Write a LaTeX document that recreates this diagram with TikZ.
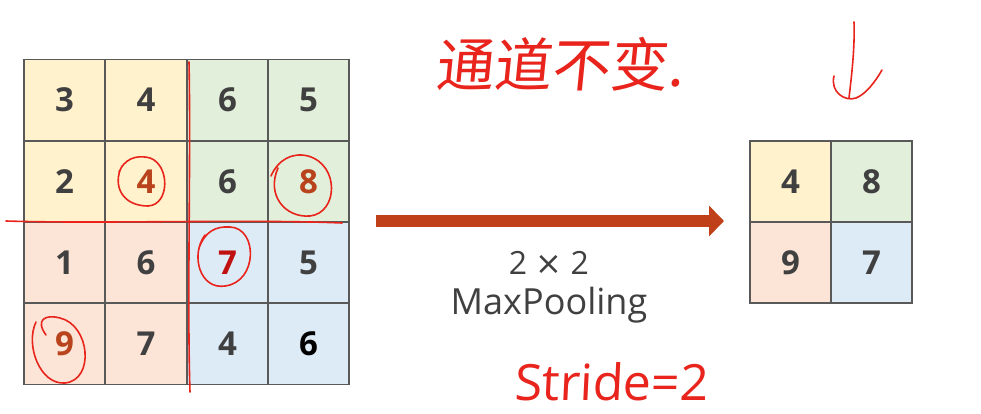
\documentclass[tikz,border=0pt]{standalone}
\usepackage{fontspec}
\setmainfont{Open Sans}
\newfontfamily\cjk{Noto Sans CJK SC}
\newfontfamily\symf{DejaVu Sans}
\usetikzlibrary{arrows.meta,calc}
\definecolor{cyel}{HTML}{FFF2CC}
\definecolor{cgrn}{HTML}{E2EFDA}
\definecolor{corg}{HTML}{FCE4D6}
\definecolor{cblu}{HTML}{DDEBF7}
\definecolor{gridc}{HTML}{595959}
\definecolor{numc}{HTML}{404040}
\definecolor{hit}{HTML}{B8431C}
\definecolor{arrc}{HTML}{C0401A}
\definecolor{pen}{HTML}{E8241C}
\tikzset{
  cell/.style={draw=gridc, line width=1.2pt, minimum width=81pt, minimum height=81pt, inner sep=0pt, outer sep=0pt,
    font=\fontsize{33}{33}\selectfont\bfseries, text=numc},
  ink/.style={draw=pen, line width=1.6pt, line cap=round, line join=round},
  inktext/.style={text=pen, inner sep=0pt},
}
\begin{document}
\begin{tikzpicture}[x=1pt,y=-1pt]
\useasboundingbox[fill=white] (0,0) rectangle (981,414);
% input grid
\foreach \r/\y in {1/100,2/181.5,3/262.5,4/344}{
  \foreach \c/\x in {1/64.5,2/146,3/227.5,4/308.5}{
    \coordinate (p\r\c) at (\x,\y);
  }
}
\node[cell,fill=cyel] (c11) at (p11) {3};
\node[cell,fill=cyel] (c12) at (p12) {4};
\node[cell,fill=cgrn] (c13) at (p13) {6};
\node[cell,fill=cgrn] (c14) at (p14) {5};
\node[cell,fill=cyel] (c21) at (p21) {2};
\node[cell,fill=cyel,text=hit] (c22) at (p22) {4};
\node[cell,fill=cgrn] (c23) at (p23) {6};
\node[cell,fill=cgrn,text=hit] (c24) at (p24) {8};
\node[cell,fill=corg] (c31) at (p31) {1};
\node[cell,fill=corg] (c32) at (p32) {6};
\node[cell,fill=cblu,text={rgb,255:red,192;green,16;blue,16}] (c33) at (p33) {7};
\node[cell,fill=cblu] (c34) at (p34) {5};
\node[cell,fill=corg,text=hit] (c41) at (p41) {9};
\node[cell,fill=corg] (c42) at (p42) {7};
\node[cell,fill=cblu] (c43) at (p43) {4};
\node[cell,fill=cblu,text=black] (c44) at (p44) {6};
% output grid
\node[cell,fill=cyel] (o11) at (790.5,181.5) {4};
\node[cell,fill=cgrn] (o12) at (871.5,181.5) {8};
\node[cell,fill=corg] (o21) at (790.5,262.5) {9};
\node[cell,fill=cblu] (o22) at (871.5,262.5) {7};
% main arrow
\coordinate (as) at (376,221);
\coordinate (ae) at (724,221);
\draw[arrc, line width=12pt, -{Triangle[length=15pt,width=30pt]}] (as) -- (ae);
% label
\node[text=numc, font=\fontsize{32}{32}\selectfont, inner sep=0pt] (lab1) at (549,263) {2 {\symf×} 2};
\node[text=numc, font=\fontsize{36}{36}\selectfont, inner sep=0pt, anchor=base] (lab2) at (549,314) {MaxPooling};
% handwritten annotations
\draw[ink] (6,221) .. controls (100,224) and (250,219) .. (342,223);
\draw[ink] (189,62) .. controls (191,160) and (187,300) .. (190,392);
\draw[ink] (122,166) .. controls (112,185) and (122,206) .. (148,206) .. controls (170,205) and (170,165) .. (150,158) .. controls (135,154) and (124,160) .. (119,172);
\draw[ink] (278,168) .. controls (266,195) and (285,218) .. (310,216) .. controls (338,213) and (340,165) .. (308,156) .. controls (292,152) and (278,160) .. (271,176);
\draw[ink] (205,235) .. controls (190,255) and (200,290) .. (225,286) .. controls (258,282) and (258,228) .. (230,227) .. controls (215,226) and (205,232) .. (199,248);
\draw[ink] (36,322) .. controls (25,345) and (40,385) .. (65,383) .. controls (95,380) and (90,325) .. (60,318) .. controls (45,314) and (35,320) .. (46,335);
\node[inktext, font=\cjk\fontsize{58}{58}\selectfont, xslant=0.1] (ch) at (562,64) {通道不变.};
\node[inktext, font=\fontsize{50}{50}\selectfont, xslant=0.05] (st) at (612,382) {Stride=2};
\coordinate (d0) at (854,22);
\coordinate (d1) at (849,98);
\draw[ink] (d0) .. controls (855,50) and (851,80) .. (d1);
\draw[ink] (834,76) .. controls (830,92) and (845,102) .. (856,98) .. controls (866,94) and (875,82) .. (882,70);
\end{tikzpicture}
\end{document}
